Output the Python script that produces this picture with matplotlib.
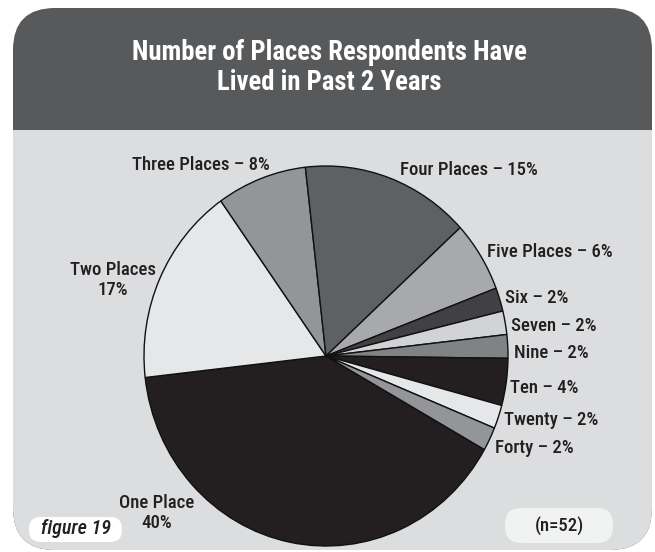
import matplotlib
matplotlib.use("Agg")
import matplotlib.pyplot as plt
from matplotlib import font_manager
from matplotlib.patches import FancyBboxPatch, Rectangle

# data
categories = ["One Place", "Two Places", "Three Places", "Four Places", "Five Places",
              "Six", "Seven", "Nine", "Ten", "Twenty", "Forty"]
percents = [40, 17, 8, 15, 6, 2, 2, 2, 4, 2, 2]
n_resp = 52
title_lines = ["Number of Places Respondents Have", "Lived in Past 2 Years"]
fig_label = "figure 19"

colors = ["#231f20", "#e6e7e8", "#939598", "#5f6062", "#a7a9ac",
          "#414042", "#d1d3d4", "#808285", "#231f20", "#e6e7e8", "#939598"]

# pick a narrow font if there is one
names = {f.name for f in font_manager.fontManager.ttflist}
FONT = "DejaVu Sans"
for cand in ["Liberation Sans Narrow", "Roboto Condensed", "Open Sans Condensed", "Arial Narrow"]:
    if cand in names:
        FONT = cand
        break
plt.rcParams["font.family"] = [FONT, "DejaVu Sans"]

W, H = 655, 552
fig = plt.figure(figsize=(W / 100, H / 100), dpi=100)
fig.patch.set_facecolor("white")

# background frame, pixel coordinates
bg = fig.add_axes([0, 0, 1, 1])
bg.set_xlim(0, W)
bg.set_ylim(H, 0)
bg.axis("off")

header_col = "#58595b"
body_col = "#dcddde"
bg.add_patch(FancyBboxPatch((13, 8), 639, 542, boxstyle="round,pad=0,rounding_size=42",
                            fc=header_col, ec="none"))
bg.add_patch(FancyBboxPatch((13, 130), 639, 420, boxstyle="round,pad=0,rounding_size=42",
                            fc=body_col, ec="none"))
bg.add_patch(Rectangle((13, 130), 639, 60, fc=body_col, ec="none"))

# pie (slightly taller than wide, like the original)
cx, cy, rx, ry = 326, 356, 182, 190
pax = fig.add_axes([(cx - rx) / W, (H - cy - ry) / H, 2 * rx / W, 2 * ry / H])
pax.pie(percents, colors=colors, startangle=-29.5, counterclock=False,
        wedgeprops=dict(edgecolor="#111111", linewidth=1.0))
pax.set_aspect("auto")
pax.set_xlim(-1.0, 1.0)
pax.set_ylim(-1.0, 1.0)
pax.axis("off")

# text layer
tx = fig.add_axes([0, 0, 1, 1])
tx.set_xlim(0, W)
tx.set_ylim(H, 0)
tx.axis("off")
tx.patch.set_alpha(0)

tx.text(329, 52, title_lines[0], color="white", fontsize=19.3, fontweight="bold",
        ha="center", va="center")
tx.text(329, 83, title_lines[1], color="white", fontsize=19.3, fontweight="bold",
        ha="center", va="center")

lab_kw = dict(fontsize=13.5, color="#231f20", va="center", fontweight="medium")
# two-line labels
tx.text(157, 513, f"{categories[0]}\n{percents[0]}%", ha="center", linespacing=1.15, **lab_kw)
tx.text(113, 280, f"{categories[1]}\n{percents[1]}%", ha="center", linespacing=1.15, **lab_kw)
# single-line labels
tx.text(270, 165, f"{categories[2]} – {percents[2]}%", ha="right", **lab_kw)
left_pos = {3: (400, 170), 4: (487, 252), 5: (505, 298), 6: (511, 326), 7: (514, 353),
            8: (510, 388), 9: (504, 420), 10: (495, 448)}
for i, (x, y) in left_pos.items():
    tx.text(x, y, f"{categories[i]} – {percents[i]}%", ha="left", **lab_kw)

# corner badges
tx.add_patch(FancyBboxPatch((29, 517), 93, 25, boxstyle="round,pad=0,rounding_size=12",
                            fc="white", ec="none"))
tx.text(76, 529, fig_label, fontsize=14.5, style="italic", ha="center", va="center",
        color="#231f20", fontweight="medium")
tx.add_patch(FancyBboxPatch((505, 508), 108, 35, boxstyle="round,pad=0,rounding_size=16",
                            fc="#f1f2f2", ec="none"))
tx.text(559, 526, f"(n={n_resp})", fontsize=13.5, ha="center", va="center", color="#231f20",
        fontweight="medium")

fig.savefig("out.png", dpi=100)
